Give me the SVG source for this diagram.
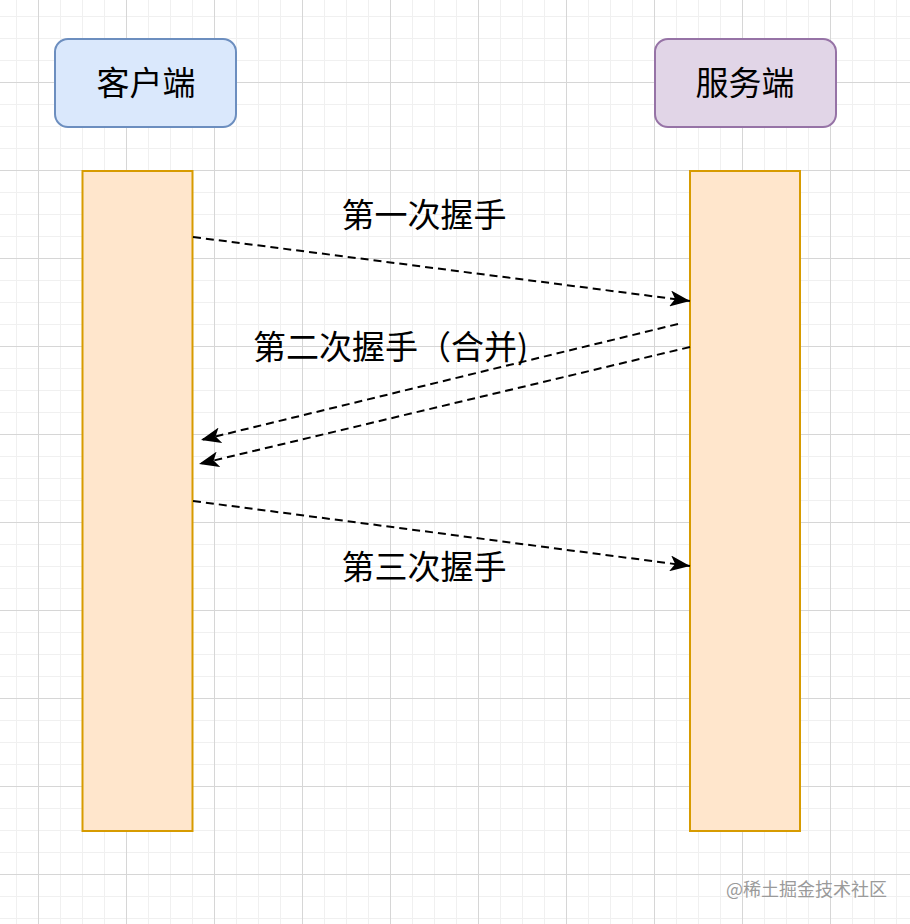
<svg xmlns="http://www.w3.org/2000/svg" width="910" height="924" viewBox="0 0 910 924">
  <style>
    .lbl { font-family: "Noto Sans CJK SC", "Noto Sans", sans-serif; font-size: 33px; fill: #000000; }
    .conn { fill: none; stroke: #000000; stroke-width: 2; stroke-dasharray: 8 5; }
    .wm { font-family: "Noto Sans CJK SC", "Noto Sans", sans-serif; font-size: 18px; fill: #9a9a9a; }
  </style>
  <defs>
    <pattern id="grid" patternUnits="userSpaceOnUse" x="38" y="82" width="88" height="88">
      <rect x="0" y="0" width="88" height="88" fill="#ffffff"/>
      <rect x="22" y="0" width="1" height="88" fill="#f0f0f0"/>
      <rect x="44" y="0" width="1" height="88" fill="#f0f0f0"/>
      <rect x="66" y="0" width="1" height="88" fill="#f0f0f0"/>
      <rect x="0" y="22" width="88" height="1" fill="#f0f0f0"/>
      <rect x="0" y="44" width="88" height="1" fill="#f0f0f0"/>
      <rect x="0" y="66" width="88" height="1" fill="#f0f0f0"/>
      <rect x="0" y="0" width="1" height="88" fill="#d6d6d6"/>
      <rect x="0" y="0" width="88" height="1" fill="#d6d6d6"/>
    </pattern>
    <marker id="arrow" markerUnits="userSpaceOnUse" viewBox="0 0 20 16" markerWidth="20" markerHeight="16" refX="20" refY="8" orient="auto">
      <path d="M0,0 L20,8 L0,16 L5,8 Z" fill="#000000"/>
    </marker>
  </defs>
  <rect x="0" y="0" width="910" height="924" fill="url(#grid)"/>

  <g id="client-head">
    <rect x="55" y="39" width="181" height="88" rx="13" ry="13" fill="#dae8fc" stroke="#6c8ebf" stroke-width="2"/>
    <text class="lbl" x="146" y="81" text-anchor="middle" dominant-baseline="central">客户端</text>
  </g>
  <g id="server-head">
    <rect x="655" y="39" width="181" height="88" rx="13" ry="13" fill="#e1d5e7" stroke="#9673a6" stroke-width="2"/>
    <text class="lbl" x="745" y="81" text-anchor="middle" dominant-baseline="central">服务端</text>
  </g>
  <g id="client-bar">
    <rect x="82.5" y="171" width="110" height="660" fill="#ffe6cc" stroke="#d79b00" stroke-width="2"/>
  </g>
  <g id="server-bar">
    <rect x="690" y="171" width="110" height="660" fill="#ffe6cc" stroke="#d79b00" stroke-width="2"/>
  </g>

  <g id="connectors">
    <line class="conn" x1="193" y1="237" x2="690" y2="301" marker-end="url(#arrow)"/>
    <line class="conn" x1="678" y1="324" x2="201" y2="440" marker-end="url(#arrow)"/>
    <line class="conn" x1="690" y1="347" x2="199" y2="464" marker-end="url(#arrow)"/>
    <line class="conn" x1="193" y1="501" x2="690" y2="566" marker-end="url(#arrow)"/>
  </g>

  <g id="labels">
    <text class="lbl" x="424" y="213" text-anchor="middle" dominant-baseline="central">第一次握手</text>
    <text class="lbl" x="253" y="345" dominant-baseline="central">第二次握手（合并)</text>
    <text class="lbl" x="424" y="565" text-anchor="middle" dominant-baseline="central">第三次握手</text>
  </g>

  <text class="wm" x="887" y="888" text-anchor="end" dominant-baseline="central">@稀土掘金技术社区</text>
</svg>
